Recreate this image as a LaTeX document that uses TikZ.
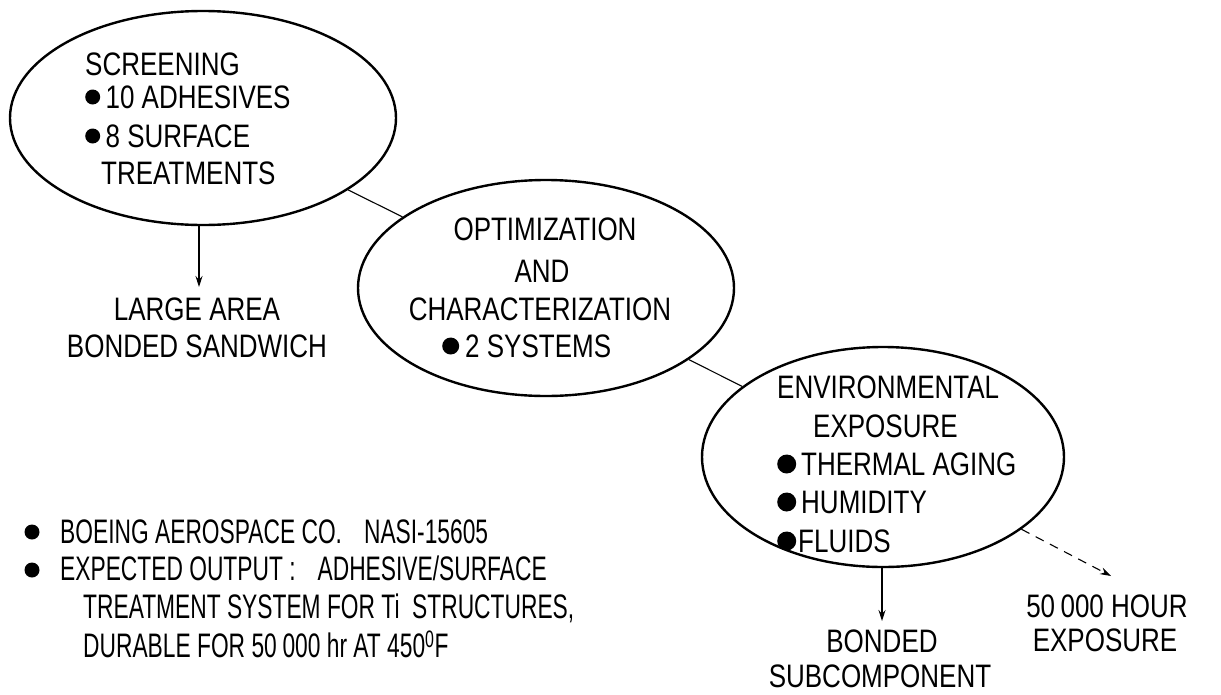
\documentclass[tikz,border=0pt]{standalone}
\usepackage{fontspec}
\setmainfont{Liberation Sans}[FakeStretch=0.8]
\newfontfamily\notefont{Liberation Sans}[FakeStretch=0.67]
\usetikzlibrary{shapes.geometric,arrows.meta}
\newcommand\bul[1][7.5pt]{\tikz[baseline=-11pt]\fill (0,0) circle (#1);}
\begin{document}
\begin{tikzpicture}[x=1pt,y=-1pt,
  oval/.style={draw,ellipse,line width=2.4pt,inner sep=0pt},
  txt/.style={inner sep=0pt,font=\fontsize{32.5}{32.5}\selectfont},
  note/.style={inner sep=0pt,font=\notefont\fontsize{34}{34}\selectfont},
  link/.style={line width=1.1pt},
  arr/.style={line width=1.1pt,-{Stealth[length=11pt,width=7pt]}}]
\useasboundingbox (0,0) rectangle (1221,694);
% ellipses
\node[oval,minimum width=386pt,minimum height=214pt] (e1) at (203,118) {};
\node[oval,minimum width=376pt,minimum height=216pt] (e2) at (546,288) {};
\node[oval,minimum width=362pt,minimum height=220pt] (e3) at (883,457) {};
\draw[link] (e1) -- (e2);
\draw[link] (e2) -- (e3);
% ellipse 1 text
\node[txt,anchor=base west] (t11) at (85,75) {SCREENING};
\node[txt,anchor=base west] (t12) at (85,108) {\bul\,10 ADHESIVES};
\node[txt,anchor=base west] (t13) at (85,147) {\bul\,8 SURFACE};
\node[txt,anchor=base west] (t14) at (101,184) {TREATMENTS};
% ellipse 2 text
\node[txt,anchor=base] (t21) at (545,240) {OPTIMIZATION};
\node[txt,anchor=base] (t22) at (542,282) {AND};
\node[txt,anchor=base] (t23) at (540,320) {CHARACTERIZATION};
\node[txt,anchor=base west] (t24) at (442,357) {\bul[8.5pt]\hspace{6pt}2 SYSTEMS};
% ellipse 3 text
\node[txt,anchor=base west] (t31) at (777,398) {ENVIRONMENTAL};
\node[txt,anchor=base west] (t32) at (813,437) {EXPOSURE};
\node[txt,anchor=base west] (t33) at (777,475) {\bul[9.5pt]\hspace{5pt}THERMAL AGING};
\node[txt,anchor=base west] (t34) at (777,513) {\bul[9.5pt]\hspace{5pt}HUMIDITY};
\node[txt,anchor=base west] (t35) at (777,552) {\bul[9.5pt]\hspace{2pt}FLUIDS};
% outputs
\coordinate (a1) at (199,287);
\draw[arr] (a1 |- e1.south) -- (a1);
\node[txt,anchor=base] (o1) at (197,320) {LARGE AREA};
\node[txt,anchor=base] (o2) at (197,357) {BONDED SANDWICH};
\coordinate (a3) at (882,621);
\draw[arr] (a3 |- e3.south) -- (a3);
\node[txt,anchor=base] (o3) at (882,652) {BONDED};
\node[txt,anchor=base] (o4) at (880,687) {SUBCOMPONENT};
\coordinate (d1) at (1111,576);
\draw[arr,dashed,dash pattern=on 9pt off 7pt] (e3) -- (d1);
\node[txt,anchor=base] (o5) at (1107,617) {50\,000 HOUR};
\node[txt,anchor=base] (o6) at (1105,651) {EXPOSURE};
% notes
\node[inner sep=0pt] (b1) at (32,532) {\tikz\fill (0,0) circle (7.5pt);};
\node[inner sep=0pt] (b2) at (32,570) {\tikz\fill (0,0) circle (7.5pt);};
\node[note,anchor=base west] (n1) at (60,543) {BOEING AEROSPACE CO.\hspace{22pt}NASI-15605};
\node[note,anchor=base west] (n2) at (60,580) {EXPECTED OUTPUT :\hspace{22pt}ADHESIVE/SURFACE};
\node[note,anchor=base west] (n3) at (83,618) {TREATMENT SYSTEM FOR Ti\ \ STRUCTURES,};
\node[note,anchor=base west] (n4) at (83,657) {DURABLE FOR 50\,000 hr AT 450\textsuperscript{0}F};
\end{tikzpicture}
\end{document}
